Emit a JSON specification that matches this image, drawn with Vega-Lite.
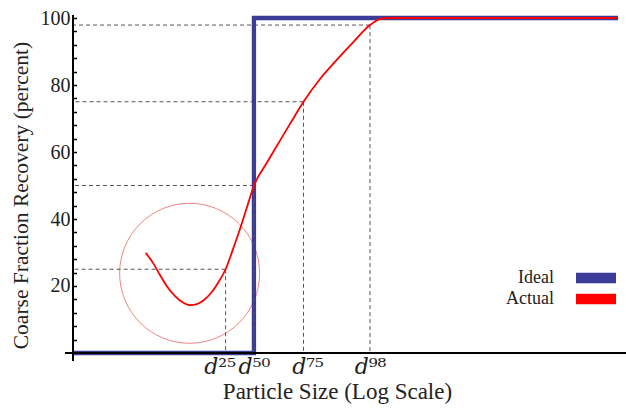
{
  "$schema": "https://vega.github.io/schema/vega-lite/v6.json",
  "autosize": {"type": "none"},
  "padding": {"left": 65, "top": 15, "right": 0, "bottom": 48},
  "width": 561,
  "height": 346,
  "background": "white",
  "config": {
    "view": {"stroke": null},
    "font": "Liberation Serif",
    "legend": {"padding": 0}
  },
  "datasets": {
    "curves": [
      {"series": "Ideal", "x": 0, "y": 0},
      {"series": "Ideal", "x": 33.2, "y": 0},
      {"series": "Ideal", "x": 33.2, "y": 100},
      {"series": "Ideal", "x": 100, "y": 100},
      {"series": "Actual", "x": 13.34, "y": 29.9},
      {"series": "Actual", "x": 14.68, "y": 26.9},
      {"series": "Actual", "x": 15.96, "y": 23.3},
      {"series": "Actual", "x": 17.19, "y": 20.0},
      {"series": "Actual", "x": 18.72, "y": 17.0},
      {"series": "Actual", "x": 20.18, "y": 15.1},
      {"series": "Actual", "x": 21.47, "y": 14.3},
      {"series": "Actual", "x": 22.75, "y": 14.6},
      {"series": "Actual", "x": 24.04, "y": 15.8},
      {"series": "Actual", "x": 25.32, "y": 17.9},
      {"series": "Actual", "x": 26.61, "y": 20.9},
      {"series": "Actual", "x": 28.0, "y": 25.0},
      {"series": "Actual", "x": 29.36, "y": 31.0},
      {"series": "Actual", "x": 30.64, "y": 37.0},
      {"series": "Actual", "x": 31.93, "y": 43.6},
      {"series": "Actual", "x": 33.2, "y": 50.0},
      {"series": "Actual", "x": 35.54, "y": 56.7},
      {"series": "Actual", "x": 37.98, "y": 63.4},
      {"series": "Actual", "x": 39.82, "y": 68.4},
      {"series": "Actual", "x": 42.3, "y": 75.0},
      {"series": "Actual", "x": 45.32, "y": 81.8},
      {"series": "Actual", "x": 48.39, "y": 87.5},
      {"series": "Actual", "x": 51.43, "y": 92.8},
      {"series": "Actual", "x": 54.5, "y": 97.9},
      {"series": "Actual", "x": 56.33, "y": 99.7},
      {"series": "Actual", "x": 58.17, "y": 100},
      {"series": "Actual", "x": 100, "y": 100}
    ],
    "cuts": [
      {"p": 25, "xd": 28.0},
      {"p": 50, "xd": 33.2},
      {"p": 75, "xd": 42.3},
      {"p": 97.9, "xd": 54.5}
    ],
    "circle": [
      {"x": 21.4, "y": 23.8}
    ]
  },
  "resolve": {"axis": {"y": "independent"}},
  "layer": [
    {
      "data": {"name": "circle"},
      "mark": {"type": "point", "shape": "circle", "filled": false, "size": 19600, "stroke": "#f08585", "strokeWidth": 1, "opacity": 1},
      "encoding": {
        "x": {"field": "x", "type": "quantitative", "scale": {"domain": [-1.468, 101.47], "nice": false, "zero": false},
          "axis": {
            "title": "Particle Size (Log Scale)",
            "titleFont": "Liberation Serif", "titleFontSize": 23, "titleFontWeight": "normal", "titleColor": "#222",
            "titleX": 272, "titleY": 27,
            "offset": -8, "domain": false, "ticks": false, "grid": false,
            "values": [28.0, 33.2, 42.3, 54.5],
            "labelExpr": "datum.value < 30 ? '𝑑²⁵' : datum.value < 35 ? '𝑑⁵⁰' : datum.value < 45 ? '𝑑⁷⁵' : '𝑑⁹⁸'",
            "labelFont": "DejaVu Serif", "labelFontSize": 22, "labelColor": "#222",
            "labelPadding": 3, "labelOverlap": false, "labelFlush": false,
            "labelOffset": {"condition": [{"test": "datum.value < 30", "value": -6}, {"test": "datum.value > 40 && datum.value < 45", "value": 4}], "value": 0}
          }},
        "y": {"field": "y", "type": "quantitative", "scale": {"domain": [-2.39, 100.9], "nice": false, "zero": false},
          "axis": {
            "orient": "left",
            "title": "Coarse Fraction Recovery (percent)",
            "titleFont": "Liberation Serif", "titleFontSize": 21.5, "titleFontWeight": "normal", "titleColor": "#222",
            "titleX": -41, "titleY": 180,
            "offset": -8, "domain": false, "grid": false, "ticks": false,
            "values": [20, 40, 60, 80, 100],
            "labelOverlap": false,
            "labelFont": "Liberation Serif", "labelFontSize": 20, "labelColor": "#222",
            "labelPadding": 3
          }}
      }
    },
    {
      "data": {"name": "cuts"},
      "mark": {"type": "rule", "stroke": "#555", "strokeWidth": 1, "strokeDash": [4, 3]},
      "encoding": {
        "x": {"field": "xd", "type": "quantitative"},
        "x2": {"datum": 0},
        "y": {"field": "p", "type": "quantitative",
          "axis": {
            "orient": "right", "offset": -553, "title": null, "labels": false, "domain": false, "grid": false,
            "values": [4, 8, 12, 16, 20, 24, 28, 32, 36, 40, 44, 48, 52, 56, 60, 64, 68, 72, 76, 80, 84, 88, 92, 96, 100],
            "ticks": true, "tickSize": 3.5, "tickWidth": 1.5, "tickColor": "#000"
          }}
      }
    },
    {
      "data": {"name": "curves"},
      "transform": [{"filter": "datum.series == 'Ideal'"}],
      "mark": {"type": "line", "strokeWidth": 4.3},
      "encoding": {
        "x": {"field": "x", "type": "quantitative"},
        "y": {"field": "y", "type": "quantitative", "axis": null},
        "color": {"field": "series", "type": "nominal",
          "scale": {"domain": ["Ideal", "Actual"], "range": ["#3b3b98", "#ff0000"]},
          "legend": {
            "title": null, "orient": "none", "legendX": 522, "legendY": 254,
            "symbolType": "M-10,-2H10M-10,-1H10M-10,0H10M-10,1H10M-10,2H10", "symbolSize": 16, "symbolStrokeWidth": 2.3,
            "labelFont": "Liberation Serif", "labelFontSize": 18, "labelColor": "#222",
            "labelAlign": "right", "labelOffset": -51, "rowPadding": 3
          }}
      }
    },
    {
      "data": {"name": "cuts"},
      "mark": {"type": "rule", "stroke": "#555", "strokeWidth": 1, "strokeDash": [4, 3]},
      "encoding": {
        "x": {"field": "xd", "type": "quantitative"},
        "y": {"field": "p", "type": "quantitative", "axis": null},
        "y2": {"datum": 0}
      }
    },
    {
      "data": {"name": "curves"},
      "transform": [{"filter": "datum.series == 'Actual'"}],
      "mark": {"type": "line", "strokeWidth": 1.8, "interpolate": "monotone"},
      "encoding": {
        "x": {"field": "x", "type": "quantitative"},
        "y": {"field": "y", "type": "quantitative", "axis": null},
        "color": {"field": "series", "type": "nominal"}
      }
    },
    {
      "data": {"values": [{}]},
      "mark": {"type": "rule", "stroke": "#000", "strokeWidth": 2},
      "encoding": {"x": {"datum": 0, "type": "quantitative"}}
    },
    {
      "data": {"values": [{}]},
      "mark": {"type": "rule", "stroke": "#000", "strokeWidth": 2},
      "encoding": {"y": {"datum": 0, "type": "quantitative", "axis": null}}
    }
  ]
}
